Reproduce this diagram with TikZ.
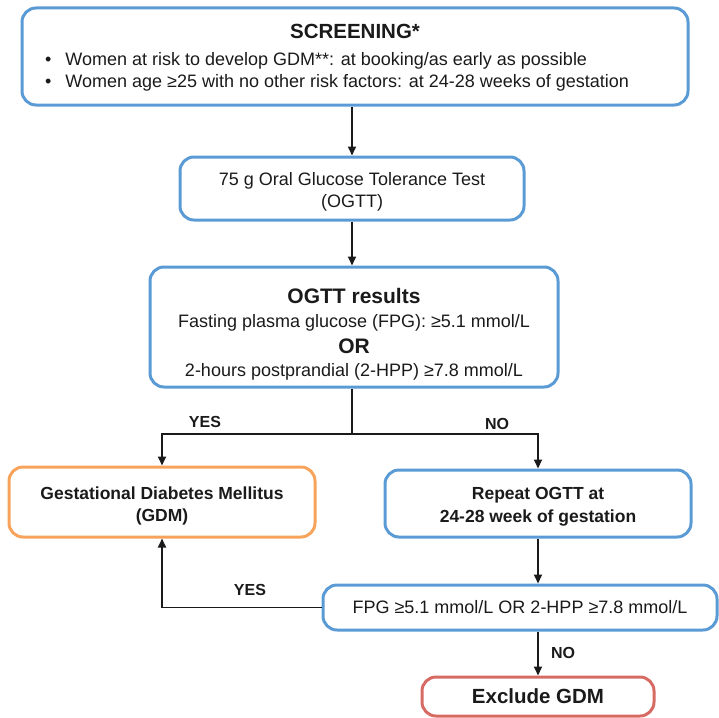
\documentclass[tikz,border=0pt]{standalone}
\usepackage{fontspec}
\setmainfont{Liberation Sans}
\usetikzlibrary{arrows.meta}
\definecolor{boxblue}{HTML}{5B9BD5}
\definecolor{boxorange}{HTML}{F7A35C}
\definecolor{boxred}{HTML}{D76B64}
\definecolor{ink}{HTML}{1A1A1A}
\newcommand{\padtop}[1]{\rule{0pt}{#1}}
\begin{document}
\begin{tikzpicture}[x=1pt,y=-1pt,
  box/.style={draw=boxblue,line width=3pt,rounded corners=14pt,text=ink,align=center,inner sep=0pt,font=\fontsize{18}{22}\selectfont},
  link/.style={draw=ink,line width=1.8pt},
  arr/.style={link,-{Triangle[length=9pt,width=8pt]}},
  lbl/.style={text=ink,inner sep=0pt,font=\fontsize{16}{18}\selectfont\bfseries}]
\useasboundingbox (0,0) rectangle (719,717);
% screening box
\node[box,minimum width=666pt,minimum height=97pt] (scr) at (355,56.5) {};
\node[text=ink,inner sep=0pt,font=\fontsize{20.5}{24}\selectfont\bfseries] (scrt) at (355,31) {SCREENING*};
\node[text=ink,inner sep=0pt,anchor=west,align=left,font=\fontsize{18}{22}\selectfont] (scrl) at (45,72)
  {•\hspace{14pt}Women at risk to develop GDM**: at booking/as early as possible\\
   •\hspace{14pt}Women age ≥25 with no other risk factors: at 24-28 weeks of gestation};
% test and results
\node[box,minimum width=344pt,minimum height=63pt] (ogtt) at (352,188.5) {\padtop{20pt}75 g Oral Glucose Tolerance Test\\(OGTT)};
\node[box,minimum width=408pt,minimum height=120pt] (res) at (354,327)
  {\padtop{29pt}{\fontsize{21}{24}\selectfont\bfseries OGTT results}\\[2pt]
   Fasting plasma glucose (FPG): ≥5.1 mmol/L\\[4pt]
   {\fontsize{21}{24}\selectfont\bfseries OR}\\[1pt]
   2-hours postprandial (2-HPP) ≥7.8 mmol/L};
% outcomes
\node[box,draw=boxorange,minimum width=306pt,minimum height=70pt,font=\fontsize{17.5}{22}\selectfont\bfseries] (gdm) at (162,502) {\padtop{21pt}Gestational Diabetes Mellitus\\(GDM)};
\node[box,minimum width=306pt,minimum height=67pt,font=\fontsize{17.5}{23}\selectfont\bfseries] (rep) at (538,503.5) {\padtop{19pt}Repeat OGTT at\\24-28 week of gestation};
\node[box,minimum width=394pt,minimum height=45pt] (fpg) at (520,607.5) {FPG ≥5.1 mmol/L OR 2-HPP ≥7.8 mmol/L};
\node[box,draw=boxred,minimum width=232pt,minimum height=39pt,font=\fontsize{20.5}{24}\selectfont\bfseries] (exc) at (538,696.5) {Exclude GDM};
% connectors
\coordinate (split) at (352,434);
\draw[arr] (ogtt.north |- scr.south) -- (ogtt.north);
\draw[arr] (ogtt.south) -- (ogtt.south |- res.north);
\draw[link] (split |- res.south) -- (split);
\draw[arr] (split) -| (gdm.north);
\draw[arr] (split) -| (rep.north);
\draw[arr] (rep.south) -- (rep.south |- fpg.north);
\draw[arr] (fpg.west) -| (gdm.south);
\draw[arr] (rep.south |- fpg.south) -- (exc.north);
\node[lbl] (yes1) at (205,422) {YES};
\node[lbl] (no1) at (497,424) {NO};
\node[lbl] (yes2) at (250,590) {YES};
\node[lbl] (no2) at (563,653) {NO};
\end{tikzpicture}
\end{document}
